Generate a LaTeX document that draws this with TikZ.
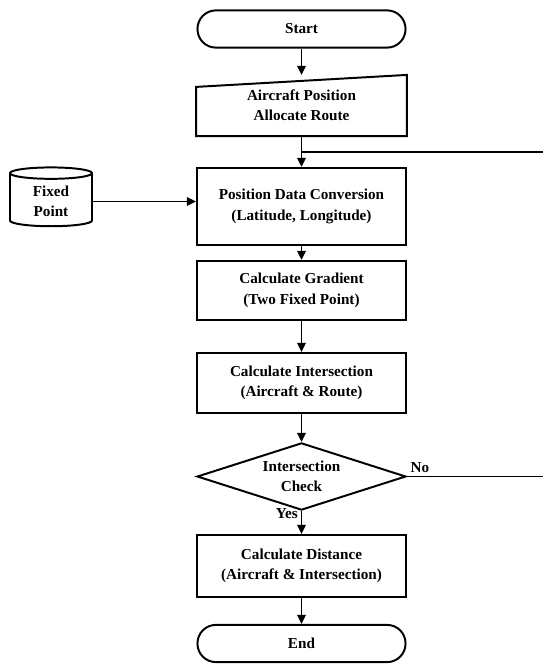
\documentclass[tikz,border=0pt]{standalone}
\usepackage{fontspec}
\setmainfont{Liberation Serif}
\usetikzlibrary{shapes.geometric,arrows.meta,calc}

\begin{document}
\begin{tikzpicture}[x=0.025cm, y=-0.025cm, line width=1.4pt,
    every node/.style={font=\bfseries\fontsize{10.8}{14.5}\selectfont, align=center},
    term/.style={draw, rectangle, rounded corners=0.46cm, minimum width=5.2cm, minimum height=0.93cm},
    proc/.style={draw, rectangle, minimum width=5.22cm},
    decide/.style={draw, diamond, aspect=3.1, minimum width=5.22cm, minimum height=1.68cm, inner sep=0pt},
    store/.style={draw, cylinder, shape border rotate=90, aspect=0.25, minimum width=2.05cm, minimum height=1.47cm},
    flow/.style={-{Triangle[length=6.5pt,width=6pt]}}]
\useasboundingbox (0,0) rectangle (543,669);

% flowchart nodes
\node[term] (start) at (301.5,29) {Start};
\node[minimum width=5.22cm, minimum height=1.48cm] (input) at (301.5,105.5) {Aircraft Position\\Allocate Route};
\draw (input.south west) -- ($(input.north west)+(0,12)$) -- (input.north east) -- (input.south east) -- cycle;
\node[proc, minimum height=1.93cm] (conv) at (301.5,206.5) {Position Data Conversion\\(Latitude, Longitude)};
\node[store] (fixed) at (51,201.5) {Fixed\\Point};
\node[proc, minimum height=1.48cm] (grad) at (301.5,290.5) {Calculate Gradient\\(Two Fixed Point)};
\node[proc, minimum height=1.5cm] (inter) at (301.5,383) {Calculate Intersection\\(Aircraft \& Route)};
\node[decide] (check) at (301.5,476.5) {Intersection\\Check};
\node[proc, minimum height=1.55cm] (dist) at (301.5,566) {Calculate Distance\\(Aircraft \& Intersection)};
\node[term] (end) at (301.5,643.5) {End};

\coordinate (join) at (301.5,152);
\coordinate (loopA) at (543,152);
\coordinate (loopB) at (543,476.5);

% connectors
\draw[flow] (start) -- (input);
\draw[flow] (input) -- (conv);
\draw (join) -- (loopA);
\draw[flow] (fixed.east) -- (fixed.east -| conv.west);
\draw[flow] (conv) -- (grad);
\draw[flow] (grad) -- (inter);
\draw[flow] (inter) -- (check);
\draw (check.east) -- node[pos=0, above right, inner sep=2pt] {No} (loopB);
\draw[flow] (check) -- node[pos=0.12, left, inner sep=2pt] {Yes} (dist);
\draw[flow] (dist) -- (end);
\end{tikzpicture}
\end{document}
